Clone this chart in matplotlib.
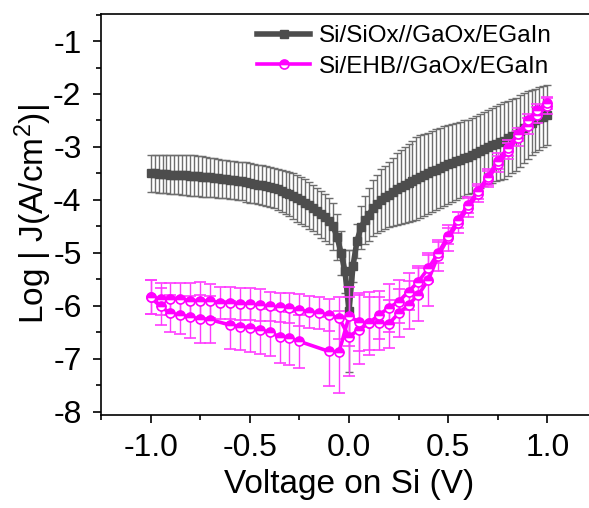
import numpy as np
import matplotlib
matplotlib.use("Agg")
import matplotlib.pyplot as plt
from matplotlib.ticker import MultipleLocator, FormatStrFormatter

# =========================
# Data
# =========================
# Si/SiOx//GaOx/EGaIn : sweep -1 V .. 1 V, 0.02 V step
v_siox = np.round(np.arange(-1.0, 1.0001, 0.02), 2)
j_siox = [
    -3.50, -3.50, -3.51, -3.51, -3.51, -3.52, -3.52, -3.52, -3.53, -3.53,
    -3.54, -3.54, -3.55, -3.56, -3.57, -3.57, -3.58, -3.59, -3.60, -3.61,
    -3.62, -3.63, -3.64, -3.65, -3.66, -3.68, -3.69, -3.71, -3.72, -3.74,
    -3.76, -3.78, -3.80, -3.83, -3.86, -3.89, -3.93, -3.97, -4.01, -4.05,
    -4.10, -4.15, -4.21, -4.27, -4.33, -4.40, -4.50, -4.70, -5.00, -5.35,
    -6.10,
    -5.25, -4.78, -4.52, -4.38, -4.28, -4.16, -4.07, -4.00, -3.95, -3.90,
    -3.85, -3.80, -3.76, -3.72, -3.68, -3.64, -3.60, -3.56, -3.53, -3.50,
    -3.46, -3.43, -3.40, -3.36, -3.33, -3.30, -3.27, -3.24, -3.21, -3.19,
    -3.16, -3.12, -3.08, -3.04, -3.00, -2.97, -2.94, -2.91, -2.88, -2.84,
    -2.80, -2.76, -2.70, -2.64, -2.59, -2.54, -2.50, -2.46, -2.43, -2.40,
]
e_siox = [
    0.35, 0.35, 0.35, 0.36, 0.36, 0.36, 0.37, 0.37, 0.37, 0.37,
    0.38, 0.38, 0.38, 0.38, 0.38, 0.37, 0.37, 0.37, 0.36, 0.36,
    0.36, 0.36, 0.36, 0.36, 0.37, 0.37, 0.37, 0.37, 0.38, 0.38,
    0.38, 0.38, 0.39, 0.40, 0.41, 0.42, 0.43, 0.44, 0.44, 0.44,
    0.44, 0.44, 0.44, 0.44, 0.44, 0.44, 0.44, 0.44, 0.42, 0.40,
    1.15,
    0.30, 0.32, 0.40, 0.45, 0.50, 0.53, 0.55, 0.58, 0.60, 0.62,
    0.65, 0.68, 0.70, 0.72, 0.74, 0.76, 0.78, 0.78, 0.78, 0.77,
    0.77, 0.76, 0.76, 0.75, 0.74, 0.74, 0.73, 0.72, 0.71, 0.70,
    0.70, 0.70, 0.70, 0.70, 0.70, 0.71, 0.71, 0.72, 0.72, 0.71,
    0.70, 0.69, 0.68, 0.66, 0.64, 0.62, 0.60, 0.59, 0.58, 0.57,
]

# Si/EHB//GaOx/EGaIn : two sweep branches, 0.05 V step
v_ehb_a = [-1.00, -0.95, -0.90, -0.85, -0.80, -0.75, -0.70, -0.65, -0.60, -0.55,
           -0.50, -0.45, -0.40, -0.35, -0.30, -0.25, -0.20, -0.15, -0.10, -0.05,
           0.00,
           0.05, 0.10, 0.15, 0.20, 0.25, 0.30, 0.35, 0.40, 0.45, 0.50,
           0.55, 0.60, 0.65, 0.70, 0.75, 0.80, 0.85, 0.90, 0.95, 1.00]
j_ehb_a = [-5.84, -5.87, -5.87, -5.87, -5.90, -5.90, -5.91, -5.94, -5.95, -5.96,
           -5.97, -5.99, -6.01, -6.03, -6.04, -6.08, -6.11, -6.14, -6.17, -6.23,
           -6.58,
           -6.45, -6.33, -6.33, -6.34, -6.14, -5.98, -5.79, -5.51, -5.05, -4.72,
           -4.43, -4.15, -3.88, -3.60, -3.33, -3.08, -2.84, -2.60, -2.40, -2.22]
e_ehb_a = [0.32, 0.30, 0.30, 0.30, 0.33, 0.35, 0.32, 0.30, 0.30, 0.30,
           0.30, 0.30, 0.28, 0.28, 0.28, 0.30, 0.30, 0.30, 0.30, 0.40,
           0.75,
           0.65, 0.60, 0.50, 0.45, 0.45, 0.45, 0.50, 0.50, 0.30, 0.25,
           0.20, 0.18, 0.15, 0.15, 0.15, 0.15, 0.15, 0.15, 0.15, 0.15]

v_ehb_b = [-1.00, -0.95, -0.90, -0.85, -0.80, -0.75, -0.70, -0.60, -0.55, -0.50,
           -0.45, -0.40, -0.35, -0.30, -0.25, -0.10, -0.05,
           0.00,
           0.05, 0.10, 0.15, 0.20, 0.25, 0.30, 0.35, 0.40, 0.45, 0.50,
           0.55, 0.60, 0.65, 0.70, 0.75, 0.80, 0.85, 0.90, 0.95, 1.00]
j_ehb_b = [-5.84, -6.01, -6.14, -6.18, -6.21, -6.25, -6.26, -6.36, -6.39, -6.42,
           -6.45, -6.50, -6.58, -6.61, -6.67, -6.86, -6.87,
           -6.20,
           -6.30, -6.33, -6.17, -6.04, -5.92, -5.73, -5.54, -5.29, -5.00, -4.68,
           -4.38, -4.09, -3.84, -3.56, -3.26, -3.02, -2.76, -2.50, -2.30, -2.17]
e_ehb_b = [0.32, 0.35, 0.35, 0.35, 0.40, 0.45, 0.45, 0.45, 0.45, 0.45,
           0.45, 0.45, 0.50, 0.50, 0.50, 0.65, 0.77,
           0.55,
           0.55, 0.50, 0.45, 0.45, 0.40, 0.35, 0.30, 0.25, 0.20, 0.15,
           0.15, 0.15, 0.15, 0.15, 0.15, 0.15, 0.12, 0.12, 0.12, 0.12]

labels = ["Si/SiOx//GaOx/EGaIn", "Si/EHB//GaOx/EGaIn"]

# =========================
# Style
# =========================
plt.rcParams["font.family"] = ["Liberation Sans", "DejaVu Sans"]
plt.rcParams["mathtext.fontset"] = "custom"
plt.rcParams["mathtext.rm"] = "Liberation Sans"
plt.rcParams["mathtext.it"] = "Liberation Sans:italic"
plt.rcParams["axes.unicode_minus"] = False

GRAY = "#4d4d4d"
GRAY_ERR = "#6e6e6e"
MAG = "#ff00ff"
MAG_ERR = "#ff3cff"

fig = plt.figure(figsize=(5.89, 5.08), dpi=100)
ax = fig.add_axes([101 / 589, 93 / 508, 496 / 589, 401 / 508])

gray = ax.errorbar(v_siox, j_siox, yerr=e_siox, color=GRAY, lw=4.0,
                   marker="s", ms=6.0, mfc=GRAY, mec=GRAY,
                   ecolor=GRAY_ERR, elinewidth=1.0, capsize=3, capthick=1.0,
                   zorder=2)

mag_kw = dict(color=MAG, lw=2.6, marker="o", ms=6.5, fillstyle="top",
              mfc=MAG, mfcalt="white", mec=MAG, mew=1.2,
              ecolor=MAG_ERR, elinewidth=1.0, capsize=4.5, capthick=1.0,
              zorder=3)
mag = ax.errorbar(v_ehb_a, j_ehb_a, yerr=e_ehb_a, **mag_kw)
ax.errorbar(v_ehb_b, j_ehb_b, yerr=e_ehb_b, **mag_kw)

ax.set_xlim(-1.25, 1.25)
ax.set_ylim(-8.06, -0.49)

ax.xaxis.set_major_locator(MultipleLocator(0.5))
ax.xaxis.set_minor_locator(MultipleLocator(0.25))
ax.yaxis.set_major_locator(MultipleLocator(1))
ax.yaxis.set_minor_locator(MultipleLocator(0.5))
ax.xaxis.set_major_formatter(FormatStrFormatter("%.1f"))
ax.yaxis.set_major_formatter(FormatStrFormatter("%d"))

ax.tick_params(which="major", direction="out", length=6, width=1.2,
               labelsize=23, top=False, right=False)
ax.tick_params(which="minor", direction="out", length=3.5, width=1.2,
               top=False, right=False)
ax.tick_params(axis="x", pad=7)
ax.tick_params(axis="y", pad=8)
for s in ax.spines.values():
    s.set_linewidth(1.2)

ax.set_xlabel("Voltage on Si (V)", fontsize=24, labelpad=4)
ax.set_ylabel("Log | J(A/cm$^{2}$)|", fontsize=24, labelpad=-1)

ax.legend([gray.lines[0], mag.lines[0]], labels, loc="upper left",
          bbox_to_anchor=(257 / 589, 483 / 508), bbox_transform=fig.transFigure,
          frameon=False, fontsize=17.5, numpoints=1, handlelength=2.2,
          handletextpad=0.35, labelspacing=0.35, borderpad=0, borderaxespad=0)

fig.savefig("out.png", dpi=100)
